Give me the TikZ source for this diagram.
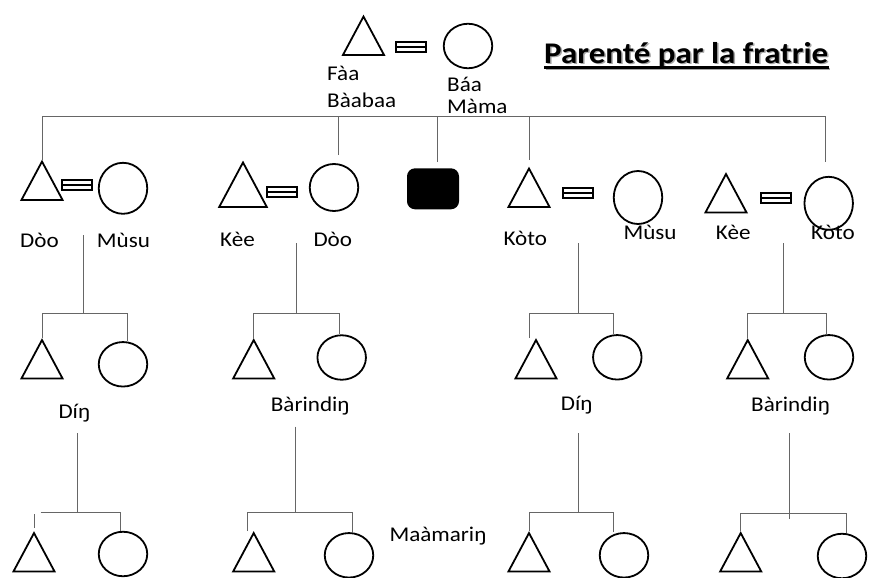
\documentclass[tikz,border=0pt]{standalone}
\usepackage{fontspec}
\setmainfont{Carlito}
\usetikzlibrary{positioning,shapes.geometric}

\tikzset{
  male/.style={regular polygon, regular polygon sides=3, draw, line width=1.8pt,
    minimum size=47.5pt, inner sep=0pt, yscale=1.08, anchor=south},
  female/.style={ellipse, draw, line width=1.8pt, minimum width=48.5pt,
    minimum height=44.5pt, inner sep=0pt},
  wed/.style={rectangle, draw, line width=2pt, minimum width=30pt,
    minimum height=10pt, inner sep=0pt,
    path picture={\draw[line width=2pt] (path picture bounding box.west) -- (path picture bounding box.east);}},
  ego/.style={rectangle, fill=black, rounded corners=8pt, minimum width=52pt,
    minimum height=41pt, inner sep=0pt},
  kin/.style={draw=black!60, line width=0.9pt},
  lbl/.style={font=\fontsize{21}{25}\selectfont, inner sep=0pt, anchor=base west, xscale=1.1},
  ttl/.style={lbl, font=\bfseries\fontsize{30}{34}\selectfont},
}

\begin{document}
\begin{tikzpicture}[x=1pt, y=-1pt]
\useasboundingbox (0,0) rectangle (870,578);

% parents
\node[male] (faa) at (363.5,56) {};
\node[wed] (w0) at (411,47.5) {};
\node[female] (baa) at (468,46) {};
\node[lbl] (faa1) at (327,81) {Fàa};
\node[lbl] (faa2) at (327,107) {Bàabaa};
\node[lbl] (baa1) at (447,92) {Báa};
\node[lbl] (baa2) at (447,113) {Màma};

% title
\node[ttl, text=black!35] (shade) at (545.5,65) {Parenté par la fratrie};
\draw[line width=2.2pt, black!35] ([yshift=-4pt]shade.base west) -- ([yshift=-4pt]shade.base east);
\node[ttl] (title) at (544,63.5) {Parenté par la fratrie};
\draw[line width=2.2pt] ([yshift=-4pt]title.base west) -- ([yshift=-4pt]title.base east);

% siblings
\node[male] (dooM) at (42,201) {};
\node[wed] (w1) at (77,185) {};
\node[female, minimum height=51pt] (musuA) at (123,188.3) {};
\node[male, minimum size=55pt] (keeA) at (243,208) {};
\node[wed] (w2) at (281.5,192) {};
\node[female, minimum height=47pt] (dooF) at (334,187.5) {};
\node[ego] (ego) at (433,188.8) {};
\node[male] (kotoM) at (529,208) {};
\node[wed] (w3) at (578,192.5) {};
\node[female, minimum height=53pt] (musuB) at (638,197.5) {};
\node[male] (keeB) at (726,213.5) {};
\node[wed] (w4) at (776,197.5) {};
\node[female, minimum height=53pt] (kotoF) at (828.7,203.3) {};

\node[lbl] at (20,247.7) {Dòo};
\node[lbl] at (96.7,247.7) {Mùsu};
\node[lbl] at (220,246.7) {Kèe};
\node[lbl] at (313.3,246.7) {Dòo};
\node[lbl] at (503.3,245) {Kòto};
\node[lbl] at (623.3,239.3) {Mùsu};
\node[lbl] at (715.7,239.3) {Kèe};
\node[lbl] at (811,239.3) {Kòto};

\coordinate (sib) at (0,116);
\draw[kin] (dooM.north |- sib) -- ([xshift=-3pt]kotoF.north |- sib);
\draw[kin] (dooM.north) -- (dooM.north |- sib);
\draw[kin, shorten <=8pt] ([xshift=4pt]dooF.north) -- ([xshift=4pt]dooF.north |- sib);
\draw[kin, shorten <=6pt] ([xshift=4pt]ego.north) -- ([xshift=4pt]ego.north |- sib);
\draw[kin, shorten <=6.5pt] (kotoM.north) -- (kotoM.north |- sib);
\draw[kin, shorten <=14pt] ([xshift=-3pt]kotoF.north) -- ([xshift=-3pt]kotoF.north |- sib);

% children
\node[male] (boy1) at (42,379.5) {};
\node[female] (girl1) at (123,364.3) {};
\node[male] (boy2) at (253.7,379.5) {};
\node[female] (girl2) at (341.7,357.5) {};
\node[male] (boy3) at (536,379.5) {};
\node[female] (girl3) at (617.3,357.3) {};
\node[male] (boy4) at (747.7,379.5) {};
\node[female] (girl4) at (829,357.3) {};

\node[lbl] at (58.3,418.3) {Díŋ};
\node[lbl] at (270.7,411.7) {Bàrindiŋ};
\node[lbl] at (560.7,410) {Díŋ};
\node[lbl] at (751,411.7) {Bàrindiŋ};

\coordinate (dA) at (83.3,235);
\coordinate (dB) at (296,243);
\coordinate (dC) at (578.3,243);
\coordinate (dD) at (783.3,243);
\coordinate (bar1) at (0,313);
\draw[kin] (dA) -- (dA |- bar1);
\draw[kin] (boy1.north) |- ([xshift=4pt]girl1.north |- bar1) -- ([xshift=4pt]girl1.north);
\draw[kin] (dB) -- (dB |- bar1);
\draw[kin] (boy2.north) |- ([xshift=-2.7pt]girl2.north |- bar1) -- ([xshift=-2.7pt]girl2.north);
\draw[kin] (dC) -- (dC |- bar1);
\draw[kin] ([xshift=-7pt]boy3.north) |- ([xshift=-4pt]girl3.north |- bar1) -- ([xshift=-4pt]girl3.north);
\draw[kin] (dD) -- (dD |- bar1);
\draw[kin] (boy4.north) |- ([xshift=-3pt]girl4.north |- bar1) -- ([xshift=-3pt]girl4.north);

% grandchildren
\node[male] (gboy1) at (34,572.5) {};
\node[female] (ggirl1) at (123,554) {};
\node[male] (gboy2) at (253.7,572.5) {};
\node[female] (ggirl2) at (349,555.3) {};
\node[male] (gboy3) at (529,572.5) {};
\node[female] (ggirl3) at (624,555.3) {};
\node[male] (gboy4) at (740.7,572.5) {};
\node[female] (ggirl4) at (842,556) {};

\node[lbl] at (389.3,541) {Maàmariŋ};

\coordinate (eA) at (77.3,433.3);
\coordinate (eB) at (295.7,426.7);
\coordinate (eC) at (578.3,433.3);
\coordinate (eD) at (789.3,433.3);
\coordinate (bar2) at (0,512);
\coordinate (bar3) at (0,513.3);
\draw[kin] (eA) -- (eA |- bar2);
\draw[kin] ([xshift=6.7pt]gboy1.north |- bar2) -- ([xshift=-3pt]ggirl1.north |- bar2) -- ([xshift=-3pt]ggirl1.north);
\draw[kin, shorten <=3pt, shorten >=2.3pt] (gboy1.north) -- (gboy1.north |- bar2);
\draw[kin] (eB) -- (eB |- bar2);
\draw[kin] ([xshift=-6.6pt]gboy2.north) |- ([xshift=3.7pt]ggirl2.north |- bar2) -- ([xshift=3.7pt]ggirl2.north);
\draw[kin] (eC) -- (eC |- bar2);
\draw[kin] (gboy3.north) |- ([xshift=-10.7pt]ggirl3.north |- bar2) -- ([xshift=-10.7pt]ggirl3.north);
\draw[kin] (eD) -- ([yshift=-6pt]eD |- bar3);
\draw[kin] (gboy4.north) |- ([xshift=4.7pt]ggirl4.north |- bar3) -- ([xshift=4.7pt]ggirl4.north);
\end{tikzpicture}
\end{document}
